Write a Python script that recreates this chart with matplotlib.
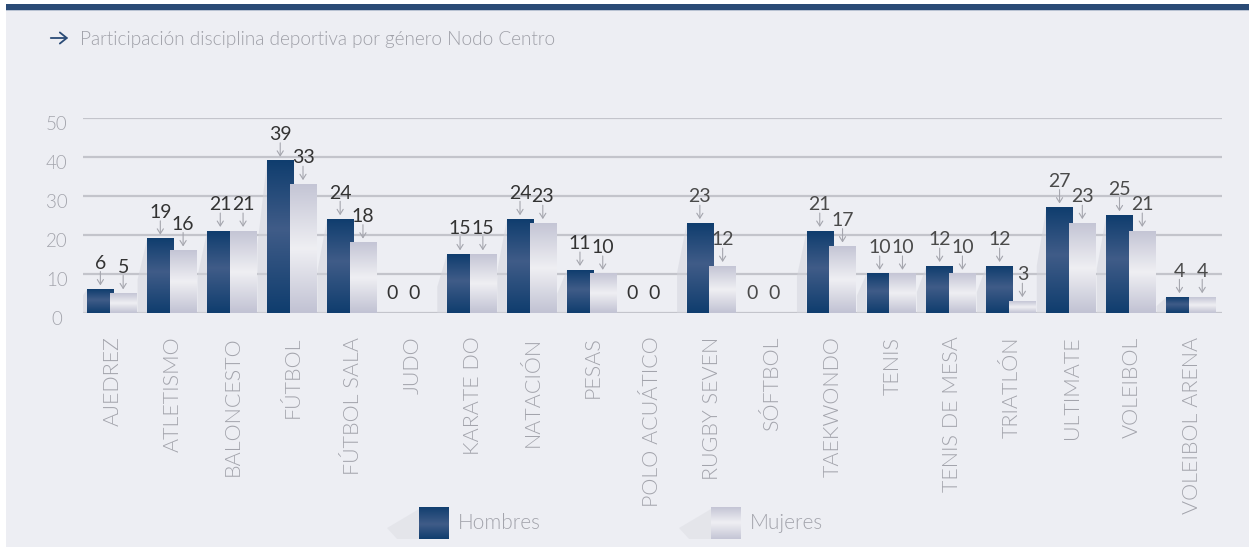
import numpy as np
import matplotlib
matplotlib.use("Agg")
import matplotlib.pyplot as plt
from matplotlib.patches import Rectangle, Polygon
from matplotlib.colors import LinearSegmentedColormap
import matplotlib.transforms as mtransforms

# ---------------- data ----------------
categories = ["AJEDREZ", "ATLETISMO", "BALONCESTO", "FÚTBOL", "FÚTBOL SALA", "JUDO",
              "KARATE DO", "NATACIÓN", "PESAS", "POLO ACUÁTICO", "RUGBY SEVEN", "SÓFTBOL",
              "TAEKWONDO", "TENIS", "TENIS DE MESA", "TRIATLÓN", "ULTIMATE", "VOLEIBOL",
              "VOLEIBOL ARENA"]
hombres = [6, 19, 21, 39, 24, 0, 15, 24, 11, 0, 23, 0, 21, 10, 12, 12, 27, 25, 4]
mujeres = [5, 16, 21, 33, 18, 0, 15, 23, 10, 0, 12, 0, 17, 10, 10, 3, 23, 21, 4]
series_names = ["Hombres", "Mujeres"]
title = "Participación disciplina deportiva por género Nodo Centro"
yticks = [0, 10, 20, 30, 40, 50]

# ---------------- style ----------------
BG = "#EDEEF3"
NAVY = "#2A4B76"
TXT_LIGHT = "#A3A4AC"
GRID = "#C3C4CB"
LIGHT_FONT = dict(family="Lato", weight=300)

cm_h = LinearSegmentedColormap.from_list(
    "h", [(0, "#0F3D6E"), (0.55, "#405C88"), (1, "#0F3D6E")])
cm_m = LinearSegmentedColormap.from_list(
    "m", [(0, "#C1C2D3"), (0.5, "#EFEFF3"), (1, "#C4C5D5")])

W, H = 1249, 548
fig = plt.figure(figsize=(W / 100, H / 100), dpi=100, facecolor=BG)

# frame decorations
fig.patches.append(Rectangle((0, 1 - 4 / H), 1, 4 / H, transform=fig.transFigure,
                             facecolor="white", edgecolor="none", zorder=0))
fig.patches.append(Rectangle((0, 1 - 10 / H), 1, 6 / H, transform=fig.transFigure,
                             facecolor=NAVY, edgecolor="none", zorder=0))
fig.patches.append(Rectangle((0, 1 - 11 / H), 1, 1 / H, transform=fig.transFigure,
                             facecolor="#B8C2D2", edgecolor="none", zorder=0))
fig.patches.append(Rectangle((0, 0), 6 / W, 1, transform=fig.transFigure,
                             facecolor="white", edgecolor="none", zorder=0))
fig.patches.append(Rectangle((0, 0), 1, 1 / H, transform=fig.transFigure,
                             facecolor="white", edgecolor="none", zorder=0))

# title
fig.add_artist(matplotlib.patches.FancyArrowPatch(
    (48 / W, 1 - 38 / H), (71 / W, 1 - 38 / H), transform=fig.transFigure,
    arrowstyle="->,head_length=5,head_width=4", color=NAVY, lw=1.3,
    mutation_scale=1))
fig.text(80 / W, 1 - 39 / H, title, color="#9FA0A8", fontsize=13.7, va="center",
         ha="left", **LIGHT_FONT)

# axes
ax_l, ax_r = 83 / W, 1222 / W
ax_b, ax_t = 1 - 313 / H, 1 - 118 / H
ax = fig.add_axes([ax_l, ax_b, ax_r - ax_l, ax_t - ax_b])
ax.set_facecolor("none")
for s in ax.spines.values():
    s.set_visible(False)

n = len(categories)
x = np.arange(n)
bw = 0.44
off_h, off_m = -0.21, 0.17

for yv in yticks:
    ax.axhline(yv, color=GRID, lw=1.6, zorder=1)

grad = np.linspace(0, 1, 256).reshape(-1, 1)


def grad_bar(x0, x1, h, cmap, z):
    if h <= 0:
        return
    ax.imshow(grad, cmap=cmap, extent=[x0, x1, h, 0], aspect="auto",
              interpolation="bicubic", zorder=z, origin="upper")


for i in range(n):
    h = hombres[i]
    m = mujeres[i]
    xh = x[i] + off_h
    xm = x[i] + off_m
    if h > 0:
        x0 = xh - bw / 2
        ax.add_patch(Polygon([(x0, h), (x0 - 0.16, h * 0.45), (x0 - 0.16, 0), (x0, 0)],
                             closed=True, facecolor="#D3D4DC", edgecolor="none",
                             alpha=0.5, zorder=2))
        grad_bar(xh - bw / 2, xh + bw / 2, h, cm_h, 3)
    if m > 0:
        grad_bar(xm - bw / 2, xm + bw / 2, m, cm_m, 4)

# value labels with arrows
num_colors = ["#333333"] * 10 + ["#4a4a4a"] * 9
NUM_FS = 14
for i in range(n):
    for val, xc in ((hombres[i], x[i] + off_h), (mujeres[i], x[i] + off_m)):
        if val == 0:
            continue
        ax.annotate("", xy=(xc, val), xycoords="data", xytext=(0, 13),
                    textcoords="offset points",
                    arrowprops=dict(arrowstyle="->,head_length=0.35,head_width=0.22",
                                    color="#A5A6AE", lw=0.8, shrinkA=0, shrinkB=3),
                    zorder=6, annotation_clip=False)
        ax.annotate(str(val), xy=(xc, val), xycoords="data", xytext=(0, 15),
                    textcoords="offset points", ha="center", va="baseline",
                    fontsize=NUM_FS, family="Lato", color=num_colors[i], zorder=6,
                    annotation_clip=False)
    if hombres[i] == 0 and mujeres[i] == 0:
        ax.text(x[i] - 0.34, 5.0, "0", ha="center", va="center", fontsize=NUM_FS,
                family="Lato", color=num_colors[i], zorder=6)
        ax.text(x[i] + 0.02, 5.0, "0", ha="center", va="center", fontsize=NUM_FS,
                family="Lato", color=num_colors[i], zorder=6)

ax.set_xlim(-0.5, n - 0.5)
ax.set_ylim(0, 50)
ax.set_xticks(x)
ax.set_xticklabels(categories, rotation=90, ha="center", va="top", color=TXT_LIGHT,
                   fontsize=15.5, **LIGHT_FONT)
ax.set_yticks(yticks)
ax.set_yticklabels([str(v) for v in yticks], color=TXT_LIGHT, fontsize=13.5,
                   ha="center", **LIGHT_FONT)
ax.tick_params(axis="x", length=0, pad=17)
ax.tick_params(axis="y", length=0, pad=19)
offset = mtransforms.ScaledTranslation(0, -5 / 100, fig.dpi_scale_trans)
for lab in ax.get_yticklabels():
    lab.set_transform(lab.get_transform() + offset)


# legend (manual)
def legend_item(x0, label, cmap):
    lx0, lx1 = x0 / W, (x0 + 30) / W
    ly0, ly1 = 1 - 539 / H, 1 - 507 / H
    fig.patches.append(Polygon([(lx0, ly1 - 2 / H), (lx0 - 32 / W, 1 - 528 / H),
                                (lx0 - 22 / W, ly0), (lx0, ly0)], closed=True,
                               transform=fig.transFigure, facecolor="#DCDDE3",
                               edgecolor="none", alpha=0.5, zorder=1))
    lax = fig.add_axes([lx0, ly0, lx1 - lx0, ly1 - ly0])
    lax.imshow(grad, cmap=cmap, aspect="auto", interpolation="bicubic")
    lax.set_axis_off()
    fig.text((x0 + 39) / W, 1 - 523 / H, label, color=TXT_LIGHT, fontsize=15,
             va="center", ha="left", **LIGHT_FONT)


legend_item(419, series_names[0], cm_h)
legend_item(711, series_names[1], cm_m)

fig.savefig("out.png", dpi=100, facecolor=BG)
